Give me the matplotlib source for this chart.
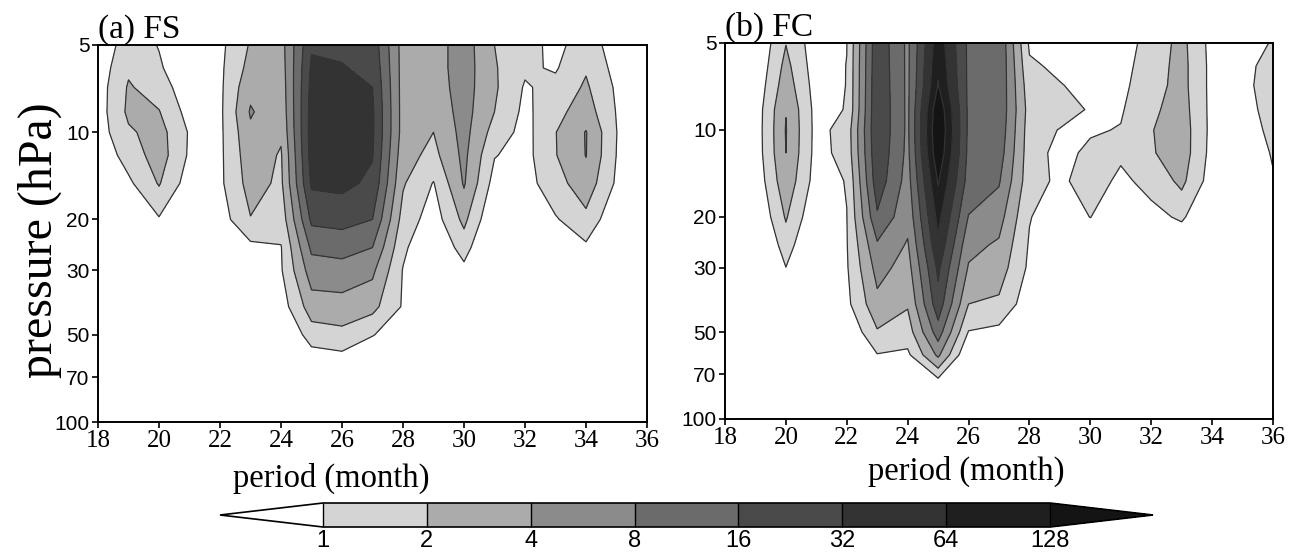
import numpy as np
import matplotlib
matplotlib.use('Agg')
import matplotlib.pyplot as plt
from matplotlib.colors import ListedColormap, BoundaryNorm
from matplotlib.ticker import NullLocator

# grid the spectra are given on
period = [18, 19, 20, 21, 22, 23, 24, 25, 26, 27, 28, 29, 30, 31, 32, 33, 34, 35, 36]
pressure = [5, 6, 7, 8.5, 10, 12, 15, 20, 25, 30, 40, 50, 60, 75, 100]

# log2 of the power, one list per period (pressure levels top -> bottom)
fs_log2 = [
    [-0.8, -0.6, -0.5, -0.5, -0.5, -0.7, -1.0, -1.5, -2, -2, -2, -2, -2, -2, -2],
    [0.55, 0.85, 1.1, 1.2, 0.85, 0.4, -0.2, -1.0, -2, -2, -2, -2, -2, -2, -2],
    [-0.05, 0.15, 0.55, 1.05, 1.4, 1.5, 1.08, -0.1, -1.0, -2, -2, -2, -2, -2, -2],
    [-1.0, -0.9, -0.7, -0.4, -0.1, -0.15, -0.5, -1.2, -2, -2, -2, -2, -2, -2, -2],
    [-0.25, -0.2, -0.2, -0.2, -0.2, -0.2, -0.2, -0.5, -1.2, -2, -2, -2, -2, -2, -2],
    [1.1, 1.35, 1.75, 2.1, 1.8, 1.6, 1.4, 0.95, -0.3, -1.0, -2, -2, -2, -2, -2],
    [1.6, 1.5, 1.4, 1.3, 1.15, 0.9, 0.8, 0.4, -0.05, -0.1, -0.5, -1.2, -1.8, -2, -2],
    [4.9, 5.15, 5.3, 5.4, 5.45, 5.4, 5.15, 4.2, 3.2, 2.5, 1.5, 0.5, -0.5, -1.5, -2],
    [4.85, 5.05, 5.25, 5.4, 5.5, 5.45, 5.25, 4.3, 3.4, 2.55, 1.6, 0.7, -0.3, -1.5, -2],
    [4.6, 4.8, 5.0, 5.15, 5.15, 5.05, 4.8, 4.0, 3.0, 2.2, 1.3, 0.05, -0.8, -1.8, -2],
    [1.6, 1.6, 1.6, 1.6, 1.6, 1.4, 1.1, 0.6, 0.2, -0.05, -0.1, -0.6, -1.2, -2, -2],
    [1.55, 1.55, 1.5, 1.3, 1.0, 0.7, -0.05, -0.5, -1.0, -1.5, -2, -2, -2, -2, -2],
    [2.5, 2.5, 2.45, 2.4, 2.35, 2.25, 2.1, 1.25, 0.45, -0.3, -1.2, -2, -2, -2, -2],
    [1.0, 1.1, 1.15, 1.0, 0.6, 0.05, -0.4, -1.0, -1.5, -2, -2, -2, -2, -2, -2],
    [0.4, 0.15, -0.1, -0.25, -0.35, -0.35, -0.4, -1.0, -1.5, -2, -2, -2, -2, -2, -2],
    [-0.3, -0.1, 0.3, 0.7, 0.97, 0.95, 0.6, -0.1, -1.0, -1.5, -2, -2, -2, -2, -2],
    [0.55, 0.9, 1.15, 1.5, 2.05, 2.03, 1.6, 0.7, -0.2, -1.0, -1.5, -2, -2, -2, -2],
    [-0.5, -0.35, -0.15, -0.05, 0.02, -0.02, -0.15, -0.8, -1.5, -2, -2, -2, -2, -2, -2],
    [-1.5, -1.5, -1.5, -1.5, -1.5, -2, -2, -2, -2, -2, -2, -2, -2, -2, -2],
]

fc_log2 = [
    [-2, -2, -2, -2, -2, -2, -2, -2, -2, -2, -2, -2, -2, -2, -2],
    [-1.0, -0.9, -0.75, -0.6, -0.58, -0.6, -0.75, -1.1, -1.5, -2, -2, -2, -2, -2, -2],
    [0.97, 1.3, 1.55, 1.97, 2.05, 2.0, 1.7, 1.1, 0.5, -0.02, -1.0, -2, -2, -2, -2],
    [-0.6, -0.55, -0.45, -0.35, -0.33, -0.35, -0.45, -0.9, -1.3, -1.8, -2, -2, -2, -2, -2],
    [-0.02, 0.02, 0.02, 0.05, 0.4, 0.35, 0.05, -0.02, -0.05, -0.1, -0.25, -0.9, -1.5, -2, -2],
    [4.75, 4.8, 4.85, 4.9, 4.9, 4.8, 4.6, 3.85, 2.85, 2.35, 1.7, 0.9, -0.05, -1.0, -2],
    [2.8, 2.8, 2.8, 2.8, 2.8, 2.75, 2.6, 2.3, 1.9, 1.6, 1.1, 0.5, -0.2, -1.5, -2],
    [6.6, 6.85, 7.05, 7.8, 8.0, 7.8, 7.1, 6.3, 5.8, 5.2, 4.6, 3.5, 2.2, -0.5, -2],
    [3.8, 3.8, 3.8, 3.8, 3.8, 3.75, 3.6, 2.95, 2.3, 1.9, 1.0, -0.05, -1.0, -2, -2],
    [3.9, 3.9, 3.85, 3.8, 3.7, 3.5, 3.1, 2.4, 1.85, 1.5, 0.8, -0.3, -1.0, -2, -2],
    [-0.15, 0.15, 0.4, 0.6, 0.5, 0.45, 0.4, 0.05, -0.1, -0.2, -0.6, -1.2, -2, -2, -2],
    [-0.8, -0.19, 0.05, 0.45, -0.05, -0.3, -0.2, -0.6, -1.2, -2, -2, -2, -2, -2, -2],
    [-1.0, -0.7, -0.3, -0.1, -0.1, 0.2, 0.45, 0.02, -0.8, -2, -2, -2, -2, -2, -2],
    [-0.5, -0.35, -0.25, -0.1, 0.05, 0.15, -0.2, -0.8, -1.5, -2, -2, -2, -2, -2, -2],
    [0.4, 0.5, 0.6, 0.8, 0.95, 0.9, 0.3, -0.3, -1.0, -2, -2, -2, -2, -2, -2],
    [1.3, 1.35, 1.35, 1.45, 1.55, 1.55, 1.25, 0.15, -0.8, -1.5, -2, -2, -2, -2, -2],
    [-0.35, -0.3, -0.3, -0.3, -0.3, -0.35, -0.5, -1.0, -1.5, -2, -2, -2, -2, -2, -2],
    [-0.6, -0.4, -0.35, -0.45, -0.6, -0.8, -1.0, -1.5, -2, -2, -2, -2, -2, -2, -2],
    [0.1, 0.5, 0.6, 0.45, 0.3, 0.1, -0.1, -0.8, -1.5, -2, -2, -2, -2, -2, -2],
]

power_levels = [1, 2, 4, 8, 16, 32, 64, 128]
band_colors = ['#d4d4d4', '#ababab', '#8b8b8b', '#6b6b6b', '#4a4a4a', '#333333', '#1f1f1f']
over_color = '#141414'
yticks = [5, 10, 20, 30, 50, 70, 100]
xticks = [18, 20, 22, 24, 26, 28, 30, 32, 34, 36]

W, H = 1296, 553
serif = 'Liberation Serif'
sans = 'Liberation Sans'

lev = np.log2(power_levels)
cmap = ListedColormap(band_colors)
cmap.set_under('white')
cmap.set_over(over_color)
norm = BoundaryNorm(lev, cmap.N)

fig = plt.figure(figsize=(W / 100, H / 100), dpi=100)
ax_a = fig.add_axes([98 / W, 1 - 422 / H, 549 / W, 377 / H])
ax_b = fig.add_axes([725 / W, 1 - 419 / H, 548 / W, 376 / H])

for ax, data, title in [(ax_a, fs_log2, '(a) FS'), (ax_b, fc_log2, '(b) FC')]:
    Z = np.array(data).T
    cf = ax.contourf(period, pressure, Z, levels=lev, cmap=cmap, norm=norm, extend='both')
    ax.contour(period, pressure, Z, levels=lev, colors='#333333', linewidths=0.9)
    ax.set_yscale('log')
    ax.set_ylim(100, 5)
    ax.set_xlim(18, 36)
    ax.set_yticks(yticks)
    ax.set_yticklabels([str(t) for t in yticks], family=sans, fontsize=15)
    ax.yaxis.set_minor_locator(NullLocator())
    ax.set_xticks(xticks)
    ax.set_xticklabels([str(t) for t in xticks], family=serif, fontsize=18)
    ax.grid(True, ls=':', color='#c8c8c8', lw=0.8)
    ax.set_axisbelow(True)
    ax.tick_params(direction='inout', length=8, width=1.2, pad=2)
    for sp in ax.spines.values():
        sp.set_linewidth(1.4)
    ax.set_title(title, loc='left', family=serif, fontsize=24, pad=2)

fig.text(40 / W, 1 - 240 / H, 'pressure (hPa)', rotation=90, ha='center', va='center',
         family=serif, fontsize=34.5)
fig.text(331 / W, 1 - 478 / H, 'period (month)', ha='center', va='center', family=serif, fontsize=23.5)
fig.text(966 / W, 1 - 471 / H, 'period (month)', ha='center', va='center', family=serif, fontsize=23.5)

cax = fig.add_axes([220 / W, 1 - 527 / H, 933 / W, 24 / H])
cb = fig.colorbar(cf, cax=cax, orientation='horizontal', extendfrac=0.1417,
                  drawedges=True, ticks=lev)
cb.set_ticklabels([str(v) for v in power_levels])
cb.ax.tick_params(length=0, pad=2)
for t in cb.ax.get_xticklabels():
    t.set_family(sans)
    t.set_fontsize(17)
cb.outline.set_linewidth(1.2)
cb.dividers.set_color('black')
cb.dividers.set_linewidth(1.0)

fig.savefig('out.png', dpi=100)
